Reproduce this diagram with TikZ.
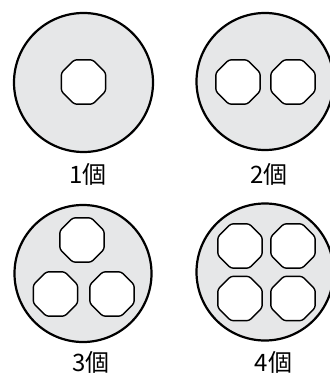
\documentclass[tikz,border=0pt]{standalone}
\usepackage{fontspec}
\newfontfamily\cjk{Noto Sans CJK JP}
\usetikzlibrary{shapes.geometric}
\definecolor{discgray}{HTML}{E6E7E8}
\tikzset{
  disc/.style={circle, draw=black, line width=2.2pt, fill=discgray, inner sep=0pt, minimum size=#1},
  hole/.style={regular polygon, regular polygon sides=8, draw=black, line width=1.4pt, fill=white, inner sep=0pt, minimum size=48pt, rounded corners=2.5pt},
  lbl/.style={font=\cjk\fontsize{24}{24}\selectfont, inner sep=0pt, anchor=base}
}
\begin{document}
\begin{tikzpicture}[x=1pt,y=-1pt]
\useasboundingbox (0,0) rectangle (329,374);
% 1
\node[disc=139pt] (d1) at (83.5,82.5) {};
\node[hole] (h11) at (83.5,82) {};
\node[lbl] (l1) at (88,183) {1個};
% 2
\node[disc=137pt] (d2) at (265,81.5) {};
\node[hole] (h21) at (238,82) {};
\node[hole] (h22) at (293,82) {};
\node[lbl] (l2) at (269,183) {2個};
% 3
\node[disc=137pt] (d3) at (83,273.5) {};
\node[hole] (h31) at (82,240) {};
\node[hole] (h32) at (55.5,294) {};
\node[hole] (h33) at (112,294) {};
\node[lbl] (l3) at (91,371) {3個};
% 4
\node[disc=137pt] (d4) at (265,272) {};
\node[hole] (h41) at (240,246) {};
\node[hole] (h42) at (293,246) {};
\node[hole] (h43) at (240,298.5) {};
\node[hole] (h44) at (293,298.5) {};
\node[lbl] (l4) at (273.5,371) {4個};
\end{tikzpicture}
\end{document}
